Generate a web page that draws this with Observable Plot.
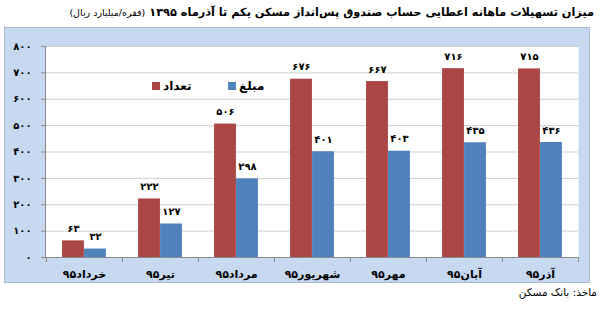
<!DOCTYPE html>
<html>
<head>
<meta charset="utf-8">
<script src="https://cdn.jsdelivr.net/npm/d3@7"></script>
<script src="https://cdn.jsdelivr.net/npm/@observablehq/plot@0.6"></script>
<style>
  html, body { margin: 0; padding: 0; background: #fff; width: 600px; height: 310px; overflow: hidden; position: relative; font-family: "DejaVu Sans", sans-serif; }
  #title { position: absolute; top: 6px; right: 6px; left: 0; text-align: right; direction: rtl; font-weight: bold; font-size: 11.3px; color: #000; white-space: nowrap; }
  #title span { font-weight: normal; font-size: 9.5px; }
  #panel { position: absolute; left: 4px; top: 27px; width: 584px; height: 254px; background: #C6D9F1; border: 1px solid #a9b9cc; }
  #panel svg { display: block; }
  .leg { position: absolute; top: 51px; display: flex; align-items: center; direction: ltr; font-weight: bold; font-size: 12px; }
  .sq { width: 8px; height: 8px; margin-right: 3px; }
  #caption { position: absolute; top: 286px; right: 3px; direction: rtl; font-size: 10.5px; color: #000; }
</style>
</head>
<body>
<div id="title">میزان تسهیلات ماهانه اعطایی حساب صندوق پس‌انداز مسکن یکم تا آذرماه ۱۳۹۵ <span>(فقره/میلیارد ریال)</span></div>
<div id="panel"></div>
<div id="caption">ماخذ: بانک مسکن</div>
<script>
const months = ["خرداد۹۵", "تیر۹۵", "مرداد۹۵", "شهریور۹۵", "مهر۹۵", "آبان۹۵", "آذر۹۵"];
const counts = [63, 222, 506, 676, 667, 716, 715];
const amounts = [32, 127, 298, 401, 403, 435, 436];
const yTicks = [0, 100, 200, 300, 400, 500, 600, 700, 800];
const seriesNames = ["تعداد", "مبلغ"];
const colors = ["#AA4643", "#4F81BD"];

const toFa = n => String(n).replace(/\d/g, d => "۰۱۲۳۴۵۶۷۸۹"[d]);

const rows = months.map((m, i) => ({month: m, count: counts[i], amount: amounts[i]}));

const W = 584, H = 254, mL = 40, mR = 11, mT = 18, mB = 25;
const bw = (W - mL - mR) / months.length;
const barW = 22;

const chart = Plot.plot({
  width: W, height: H,
  marginLeft: mL, marginRight: mR, marginTop: mT, marginBottom: mB,
  style: {background: "transparent", fontFamily: "DejaVu Sans", color: "#000"},
  x: {domain: months, padding: 0},
  y: {domain: [0, 800]},
  marks: [
    Plot.frame({fill: "white", stroke: null}),
    Plot.gridY(yTicks, {stroke: "#cfcfcf", strokeOpacity: 1}),
    Plot.barY(rows, {x: "month", y: "count", fill: colors[0], insetLeft: bw / 2 - barW, insetRight: bw / 2}),
    Plot.barY(rows, {x: "month", y: "amount", fill: colors[1], insetLeft: bw / 2, insetRight: bw / 2 - barW}),
    Plot.text(rows, {x: "month", y: "count", text: d => toFa(d.count), dx: -barW / 2, dy: -12, fontWeight: "bold", fontSize: 10}),
    Plot.text(rows, {x: "month", y: "amount", text: d => toFa(d.amount), dx: barW / 2, dy: -12, fontWeight: "bold", fontSize: 10}),
    Plot.frame({anchor: "left", stroke: "#8a8a8a"}),
    Plot.ruleY([0], {stroke: "#8a8a8a"}),
    Plot.ruleX(months, {x: d => d, dx: -bw / 2, y1: 0, y2: 0, insetBottom: -5, stroke: "#8a8a8a"}),
    Plot.ruleX(months.slice(-1), {x: d => d, dx: bw / 2, y1: 0, y2: 0, insetBottom: -5, stroke: "#8a8a8a"}),
    Plot.axisY(yTicks, {tickFormat: toFa, tickSize: 4, tickPadding: 10, fontWeight: "bold", fontSize: 10, stroke: "#8a8a8a"}),
    Plot.axisX({tickSize: 0, tickPadding: 13, fontWeight: "bold", fontSize: 11, label: null})
  ]
});
const panel = document.getElementById("panel");
panel.appendChild(chart);

const legPos = [147, 223];
seriesNames.forEach((name, i) => {
  const d = document.createElement("div");
  d.className = "leg";
  d.style.left = legPos[i] + "px";
  d.innerHTML = `<div class="sq" style="background:${colors[i]}"></div><div>${name}</div>`;
  panel.appendChild(d);
});
</script>
</body>
</html>
